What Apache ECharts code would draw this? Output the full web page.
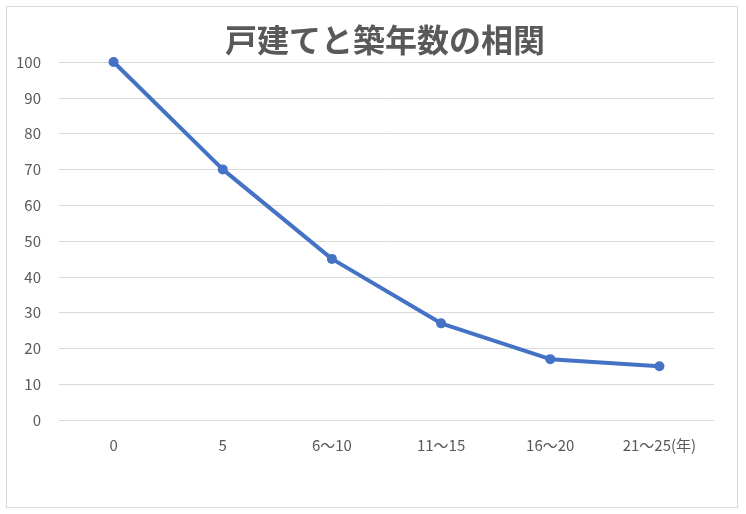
<!DOCTYPE html>
<html>
<head>
<meta charset="utf-8">
<script src="https://cdn.jsdelivr.net/npm/echarts@6/dist/echarts.min.js"></script>
<style>
html,body{margin:0;padding:0;background:#fff;}
#chart{position:absolute;left:6px;top:6px;width:732px;height:502px;border:1px solid #d9d9d9;box-sizing:border-box;}
</style>
</head>
<body>
<div id="chart"></div>
<script>
// 築年数 categories and price ratio
var categories = ['0', '5', '6～10', '11～15', '16～20', '21～25(年)'];
var values = [100, 70, 45, 27, 17, 15];
var yTicks = {min: 0, max: 100, interval: 10};

var myChart = echarts.init(document.getElementById('chart'));

var option = {
    title: {
        text: '戸建てと築年数の相関',
        left: 213,
        top: 12,
        textStyle: {
            fontFamily: 'Noto Sans CJK JP',
            fontSize: 32,
            fontWeight: 'bold',
            color: '#595959'
        }
    },
    grid: {left: 52, right: 23, top: 55, bottom: 87},
    xAxis: {
        type: 'category',
        data: categories,
        axisLine: {show: false},
        axisTick: {show: false},
        axisLabel: {
            color: '#595959',
            fontSize: 15,
            margin: 18,
            fontFamily: 'Noto Sans CJK JP'
        }
    },
    yAxis: {
        type: 'value',
        min: yTicks.min,
        max: yTicks.max,
        interval: yTicks.interval,
        axisLabel: {color: '#595959', fontSize: 15, margin: 18, fontFamily: 'Noto Sans CJK JP'},
        splitLine: {lineStyle: {color: '#d9d9d9', width: 1}}
    },
    series: [{
        type: 'line',
        data: values,
        symbol: 'circle',
        symbolSize: 10,
        lineStyle: {color: '#4472c4', width: 4},
        itemStyle: {color: '#4472c4'}
    }]
};

myChart.setOption(option);
</script>
</body>
</html>
